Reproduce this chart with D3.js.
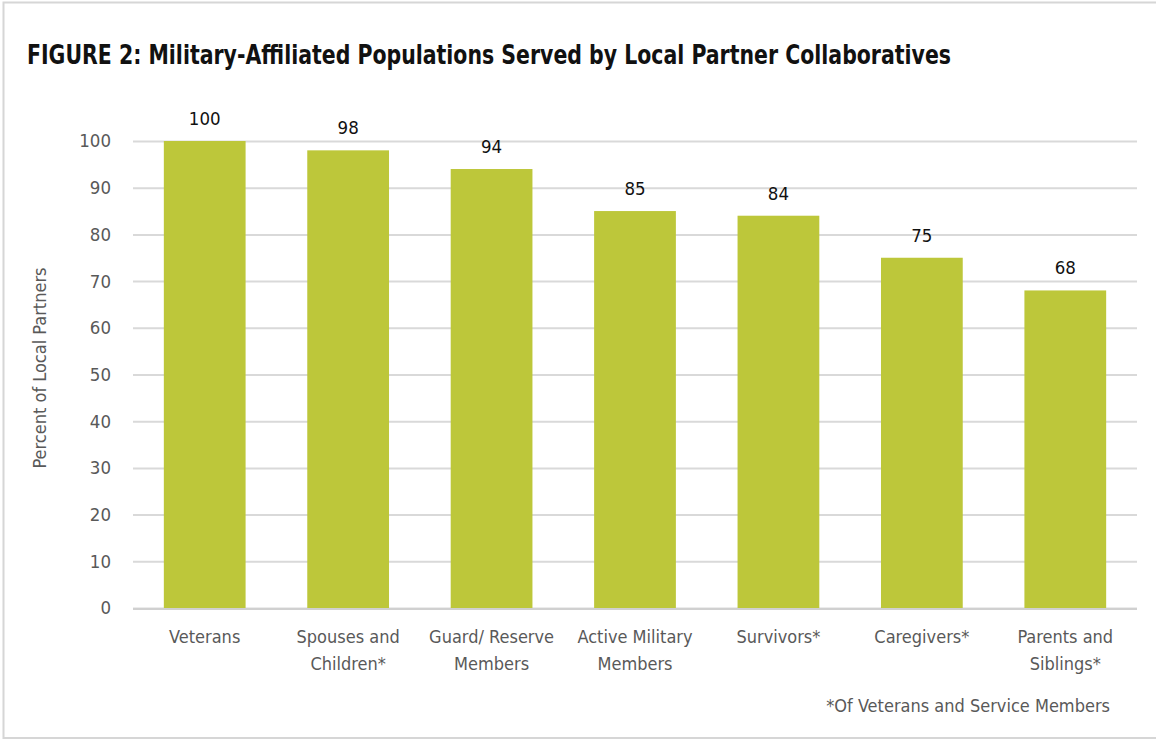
<!DOCTYPE html>
<html>
<head>
<meta charset="utf-8">
<script src="https://cdn.jsdelivr.net/npm/d3@7/dist/d3.min.js"></script>
<style>
  html, body { margin: 0; padding: 0; background: #fff; }
  svg { display: block; }
  .cond { font-family: "Liberation Sans Narrow", "DejaVu Sans Condensed", "Roboto Condensed", "Roboto", sans-serif; }
</style>
</head>
<body>
<svg id="chart" width="1156" height="740"></svg>
<script>
// Populations served, percent of local partners
const categories = [
  ["Veterans"],
  ["Spouses and", "Children*"],
  ["Guard/ Reserve", "Members"],
  ["Active Military", "Members"],
  ["Survivors*"],
  ["Caregivers*"],
  ["Parents and", "Siblings*"]
];
const values = [100, 98, 94, 85, 84, 75, 68];
const yTicks = [0, 10, 20, 30, 40, 50, 60, 70, 80, 90, 100];

const svg = d3.select("#chart");
const W = 1156, H = 740;

// frame
svg.append("rect")
  .attr("x", 3.5).attr("y", 2.5)
  .attr("width", W + 10).attr("height", H - 4.5)
  .attr("fill", "none").attr("stroke", "#d6d6d6").attr("stroke-width", 2);

const margin = { left: 133, right: 1137, top: 141, bottom: 608 };

const x = d3.scaleBand()
  .domain(d3.range(categories.length))
  .range([margin.left, margin.right])
  .paddingInner(0.43)
  .paddingOuter(0.215);

const y = d3.scaleLinear().domain([0, 100]).range([margin.bottom, margin.top]);

// title
svg.append("text")
  .attr("class", "cond")
  .attr("x", 27).attr("y", 64)
  .attr("font-size", 26).attr("font-weight", "bold")
  .attr("fill", "#111")
  .attr("textLength", 924).attr("lengthAdjust", "spacingAndGlyphs")
  .text("FIGURE 2: Military-Affiliated Populations Served by Local Partner Collaboratives");

// gridlines + y labels
const yAxis = d3.axisLeft(y).tickValues(yTicks).tickSize(-(margin.right - margin.left)).tickPadding(22);
const gy = svg.append("g").attr("transform", `translate(${margin.left},0)`).call(yAxis);
gy.select(".domain").remove();
gy.selectAll(".tick line").attr("stroke", "#d9d9d9").attr("stroke-width", 2);
gy.selectAll(".tick text")
  .attr("class", "cond")
  .attr("font-size", 18.5).attr("fill", "#595959");

// bars
svg.append("g").selectAll("rect")
  .data(values)
  .join("rect")
  .attr("x", (d, i) => x(i))
  .attr("width", x.bandwidth())
  .attr("y", d => y(d))
  .attr("height", d => y(0) - y(d))
  .attr("fill", "#bdc73a");

// baseline
svg.append("line")
  .attr("x1", margin.left).attr("x2", margin.right)
  .attr("y1", y(0) + 1).attr("y2", y(0) + 1)
  .attr("stroke", "#d0d0d0").attr("stroke-width", 2);

// value labels
svg.append("g").selectAll("text")
  .data(values)
  .join("text")
  .attr("class", "cond")
  .attr("x", (d, i) => x(i) + x.bandwidth() / 2)
  .attr("y", d => y(d) - 16)
  .attr("text-anchor", "middle")
  .attr("font-size", 18.5).attr("fill", "#111")
  .text(d => d);

// category labels
const cat = svg.append("g").selectAll("text")
  .data(categories)
  .join("text")
  .attr("class", "cond")
  .attr("x", (d, i) => x(i) + x.bandwidth() / 2)
  .attr("y", 643)
  .attr("text-anchor", "middle")
  .attr("font-size", 18).attr("fill", "#595959");
cat.selectAll("tspan")
  .data(d => d)
  .join("tspan")
  .attr("x", function () { return this.parentNode.getAttribute("x"); })
  .attr("dy", (d, j) => j === 0 ? 0 : 27)
  .text(d => d);

// y axis title
svg.append("text")
  .attr("class", "cond")
  .attr("transform", "translate(46,368) rotate(-90)")
  .attr("text-anchor", "middle")
  .attr("font-size", 18).attr("fill", "#595959")
  .text("Percent of Local Partners");

// footnote
svg.append("text")
  .attr("class", "cond")
  .attr("x", 1110).attr("y", 712)
  .attr("text-anchor", "end")
  .attr("font-size", 18).attr("fill", "#595959")
  .text("*Of Veterans and Service Members");
</script>
</body>
</html>
